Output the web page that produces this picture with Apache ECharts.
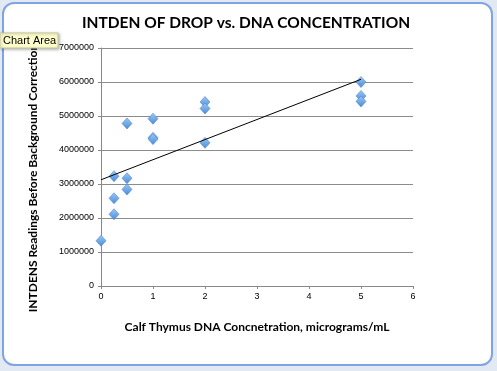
<!DOCTYPE html>
<html><head><meta charset="utf-8">
<script src="https://cdn.jsdelivr.net/npm/echarts@6/dist/echarts.min.js"></script>
<style>html,body{margin:0;padding:0;background:#e3e9f2;}#c{width:497px;height:371px;}</style>
</head><body><div id="c"></div>
<script>
const concentration = [0, 0.25, 0.25, 0.25, 0.5, 0.5, 0.5, 1, 1, 1, 2, 2, 2, 5, 5, 5];
const intden = [1330000, 3230000, 2580000, 2110000, 4780000, 3170000, 2840000, 4920000, 4360000, 4320000, 5410000, 5220000, 4210000, 6000000, 5590000, 5430000];
const yTicks = [0, 1000000, 2000000, 3000000, 4000000, 5000000, 6000000, 7000000];
const xTicks = [0, 1, 2, 3, 4, 5, 6];
const titleText = 'INTDEN OF DROP vs. DNA CONCENTRATION';
const xTitle = 'Calf Thymus DNA Concnetration, micrograms/mL';
const yTitle = 'INTDENS Readings Before Background Correction';

// least-squares trendline
const n = concentration.length;
const mx = concentration.reduce((a,b)=>a+b,0)/n;
const my = intden.reduce((a,b)=>a+b,0)/n;
let sxy=0, sxx=0;
for (let i=0;i<n;i++){ sxy += (concentration[i]-mx)*(intden[i]-my); sxx += (concentration[i]-mx)**2; }
const slope = sxy/sxx, icpt = my - slope*mx;
const xMinData = Math.min(...concentration), xMaxData = Math.max(...concentration);
const trend = [[xMinData, icpt + slope*xMinData],[xMaxData, icpt + slope*xMaxData]];

const chart = echarts.init(document.getElementById('c'), null, {renderer:'canvas'});
const lbl = {fontFamily:'Liberation Sans', fontSize:9, color:'#000', formatter:v=>String(v)};
chart.setOption({
  animation:false,
  backgroundColor:'transparent',
  graphic:[
    {type:'rect', z:-10, shape:{x:3,y:3,width:489,height:362,r:11}, style:{fill:'#fff', stroke:'#7fa4e6', lineWidth:2}},
    {type:'text', z:10, x:246, y:23, style:{text:titleText, font:'bold 15.5px Lato', fill:'#000', textAlign:'center', textVerticalAlign:'middle'}},
    {type:'text', z:10, x:257, y:327, style:{text:xTitle, font:'bold 12px Lato', fill:'#000', textAlign:'center', textVerticalAlign:'middle'}},
    {type:'text', z:10, x:33, y:178, rotation:Math.PI/2, style:{text:yTitle, font:'bold 12px Lato', fill:'#000', textAlign:'center', textVerticalAlign:'middle'}},
    {type:'rect', z:20, shape:{x:0,y:33,width:58,height:15}, style:{fill:'#ffffcc', stroke:'#c8c8a0', lineWidth:1, shadowBlur:3, shadowColor:'rgba(0,0,0,0.3)', shadowOffsetX:1, shadowOffsetY:1}},
    {type:'text', z:21, x:3, y:41, style:{text:'Chart Area', font:'11px Liberation Sans', fill:'#000', textVerticalAlign:'middle'}}
  ],
  grid:{left:101, right:84, top:48, bottom:85, containLabel:false},
  xAxis:{type:'value', min:xTicks[0], max:xTicks[xTicks.length-1], interval:1,
    axisLine:{show:true, onZero:false, lineStyle:{color:'#888', width:1}},
    axisTick:{show:true, length:3, lineStyle:{color:'#888'}},
    axisLabel:Object.assign({margin:6}, lbl),
    splitLine:{show:false}},
  yAxis:{type:'value', min:yTicks[0], max:yTicks[yTicks.length-1], interval:1000000,
    axisLine:{show:true, lineStyle:{color:'#888', width:1}},
    axisTick:{show:true, length:3, lineStyle:{color:'#888'}},
    axisLabel:Object.assign({margin:7}, lbl),
    splitLine:{show:true, lineStyle:{color:'#8c8c8c', width:1}}},
  series:[
    {type:'scatter', data:concentration.map((x,i)=>[x,intden[i]]), symbol:'diamond', symbolSize:[10,11],
      itemStyle:{color:new echarts.graphic.LinearGradient(0,0,0,1,[{offset:0,color:'#9cc8f4'},{offset:1,color:'#4a8bd9'}]), borderColor:'#4f86c9', borderWidth:0.6, opacity:1}, z:3},
    {type:'line', data:trend, symbol:'none', lineStyle:{color:'#000', width:1}, z:4}
  ]
});
</script></body></html>
